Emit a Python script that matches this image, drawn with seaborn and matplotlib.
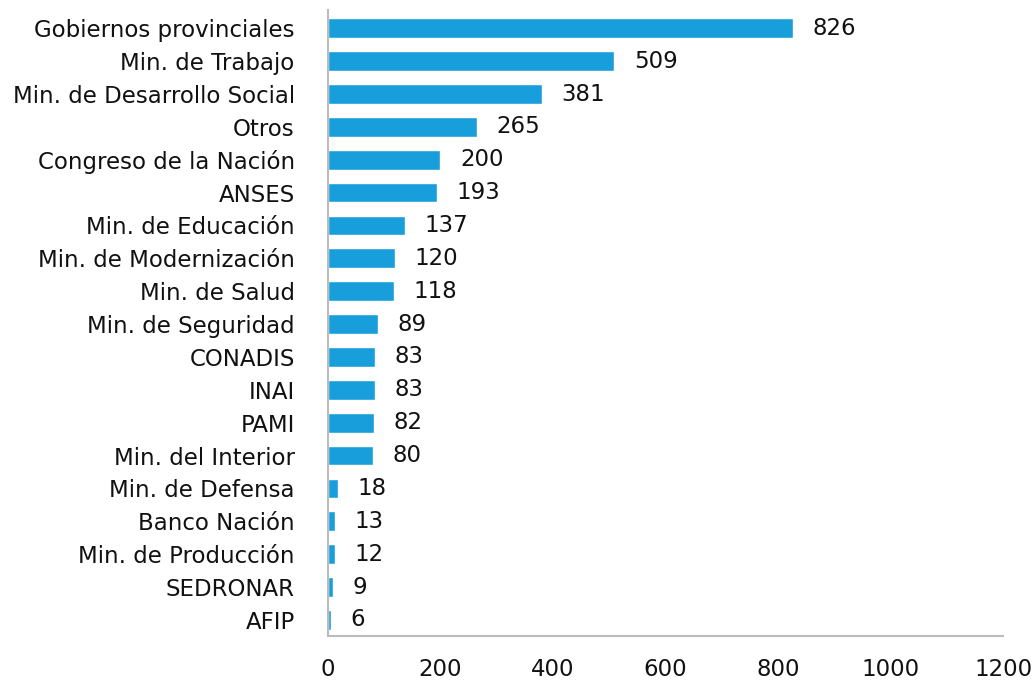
import seaborn as sns
import pandas as pd
import matplotlib.pyplot as plt
from matplotlib.transforms import ScaledTranslation

organismos = ["Gobiernos provinciales", "Min. de Trabajo", "Min. de Desarrollo Social",
              "Otros", "Congreso de la Nación", "ANSES", "Min. de Educación",
              "Min. de Modernización", "Min. de Salud", "Min. de Seguridad",
              "CONADIS", "INAI", "PAMI", "Min. del Interior", "Min. de Defensa",
              "Banco Nación", "Min. de Producción", "SEDRONAR", "AFIP"]
valores = [826, 509, 381, 265, 200, 193, 137, 120, 118, 89,
           83, 83, 82, 80, 18, 13, 12, 9, 6]
x_ticks = [0, 200, 400, 600, 800, 1000, 1200]

df = pd.DataFrame({"organismo": organismos, "valor": valores})

sns.set_style("white")
plt.rcParams['font.family'] = ['DejaVu Sans']

fig = plt.figure(figsize=(10.33, 6.8), dpi=100)
ax = fig.add_axes([0.3175, 0.0647, 0.971 - 0.3175, 0.985 - 0.0647])

sns.barplot(data=df, x="valor", y="organismo", color="#189fdb",
            saturation=1, width=0.6, ax=ax)

etiquetas = ax.bar_label(ax.containers[0], padding=14, fontsize=16.5, color="#111111")
# bajar un poco los valores para centrarlos en la barra
for t in etiquetas:
    t.set_transform(t.get_transform() + ScaledTranslation(0, -0.015, fig.dpi_scale_trans))

ax.set_xlim(0, 1200)
ax.set_ylim(18.49, -0.55)
ax.set_xticks(x_ticks)
ax.set_xlabel("")
ax.set_ylabel("")
ax.tick_params(axis="x", length=0, pad=16, labelsize=16.5, labelcolor="#111111")
ax.tick_params(axis="y", length=0, pad=24, labelsize=16.5, labelcolor="#111111")

for s in ["top", "right"]:
    ax.spines[s].set_visible(False)
for s in ["left", "bottom"]:
    ax.spines[s].set_color("#bbbbbb")
    ax.spines[s].set_linewidth(1.5)

fig.savefig("out.png", dpi=100)
